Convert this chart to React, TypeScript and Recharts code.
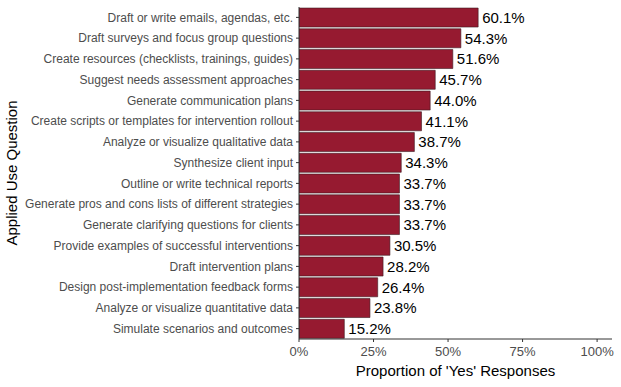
import { Bar, BarChart, LabelList, XAxis, YAxis, Label } from "recharts"

const questions = [
    "Draft or write emails, agendas, etc.",
    "Draft surveys and focus group questions",
    "Create resources (checklists, trainings, guides)",
    "Suggest needs assessment approaches",
    "Generate communication plans",
    "Create scripts or templates for intervention rollout",
    "Analyze or visualize qualitative data",
    "Synthesize client input",
    "Outline or write technical reports",
    "Generate pros and cons lists of different strategies",
    "Generate clarifying questions for clients",
    "Provide examples of successful interventions",
    "Draft intervention plans",
    "Design post-implementation feedback forms",
    "Analyze or visualize quantitative data",
    "Simulate scenarios and outcomes",
]

const yesShare = [60.1, 54.3, 51.6, 45.7, 44.0, 41.1, 38.7, 34.3, 33.7, 33.7, 33.7, 30.5, 28.2, 26.4, 23.8, 15.2]

const xTicks = [0, 25, 50, 75, 100]

const data = questions.map((q, i) => ({ question: q, value: yesShare[i] }))

const font = "'Liberation Sans', Arial, sans-serif"

const QuestionTick = ({ x, y, payload }: any) => (
    <text
        x={x}
        y={y}
        dy="0.35em"
        textAnchor="end"
        fill="#4d4d4d"
        fontSize={12}
        fontFamily={font}
    >
        {payload.value}
    </text>
)

const App = () => {
    return (
        <div style={{ position: "absolute", left: 0, top: 0, background: "#fff" }}>
            <BarChart
                width={621}
                height={387}
                data={data}
                layout="vertical"
                margin={{ top: 7, right: 9, bottom: 0, left: 0 }}
                barCategoryGap="5%"
            >
                <XAxis
                    type="number"
                    domain={[0, 105]}
                    ticks={xTicks}
                    tickFormatter={(v) => `${v}%`}
                    height={48}
                    tickSize={3}
                    tickMargin={5}
                    stroke="#333"
                    tick={{ fill: "#4d4d4d", fontSize: 13, fontFamily: font }}
                    allowDataOverflow
                >
                    <Label
                        value="Proportion of 'Yes' Responses"
                        position="insideBottom"
                        offset={11}
                        style={{ fill: "#000", fontSize: 15, fontFamily: font }}
                    />
                </XAxis>
                <YAxis
                    type="category"
                    dataKey="question"
                    width={299}
                    tickSize={3}
                    tickMargin={3}
                    stroke="#333"
                    interval={0}
                    tick={<QuestionTick />}
                >
                    <Label
                        content={({ viewBox }: any) => {
                            const cx = 13
                            const cy = viewBox.y + viewBox.height / 2
                            return (
                                <text
                                    x={cx}
                                    y={cy}
                                    transform={`rotate(-90, ${cx}, ${cy})`}
                                    textAnchor="middle"
                                    dominantBaseline="middle"
                                    fill="#000"
                                    fontSize={15}
                                    fontFamily={font}
                                >
                                    Applied Use Question
                                </text>
                            )
                        }}
                    />
                </YAxis>
                <Bar
                    dataKey="value"
                    fill="#961A30"
                    stroke="#3a1a20"
                    strokeWidth={0.6}
                    isAnimationActive={false}
                >
                    <LabelList
                        dataKey="value"
                        position="right"
                        offset={4}
                        formatter={(v: number) => `${v.toFixed(1)}%`}
                        style={{ fill: "#000", fontSize: 15, fontFamily: font }}
                    />
                </Bar>
            </BarChart>
        </div>
    )
}

export default App
